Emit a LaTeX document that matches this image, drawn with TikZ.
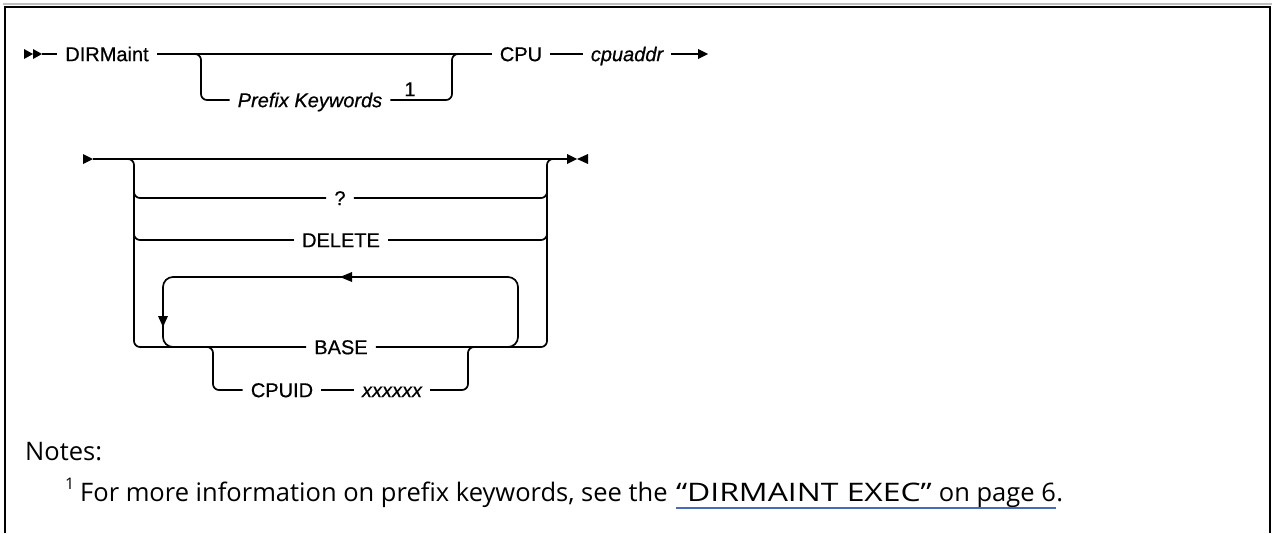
\documentclass[tikz,border=0pt]{standalone}
\usepackage{fontspec}
\setmainfont{Liberation Sans}
\newfontfamily\diagfont[FakeBold=0.6]{Liberation Sans}
\newfontfamily\notefont{Open Sans}
\newfontfamily\widenotefont[FakeStretch=1.25]{Open Sans}
\usetikzlibrary{calc}
\definecolor{linkblue}{RGB}{70,107,190}
\begin{document}
\begin{tikzpicture}[x=1pt,y=-1pt,
  conn/.style={line width=1.7pt, rounded corners=6pt},
  loopline/.style={line width=1.7pt, rounded corners=10pt},
  term/.style={font=\diagfont\fontsize{20}{24}\selectfont, inner xsep=8pt, inner ysep=0pt, text height=14.3pt, text depth=0pt},
  var/.style={term, font=\diagfont\fontsize{20}{24}\selectfont\itshape},
  notetext/.style={font=\notefont\fontsize{25.5}{30}\selectfont, inner sep=0pt, anchor=base west},
  frame/.style={line width=2pt}]
\useasboundingbox (0,0) rectangle (1273,533);

% frame
\draw[gray!50, line width=1.5pt] (3,4) -- (1272,4);
\draw[frame] (5,533) -- (5,7) -- (1270,7) -- (1270,533);

% ---------- row 1 ----------
\node[term] (dirm) at (107,54) {DIRMaint};
\node[var] (pfx) at (310,100) {Prefix Keywords};
\node[term, inner xsep=0pt] (fn1) at (410,89) {1};
\node[term] (cpu) at (521,54) {CPU};
\node[var] (cpuaddr) at (627,54) {cpuaddr};
\coordinate (s1) at (42,54);
\coordinate (j1) at (201,54);
\coordinate (j2) at (452,54);
\coordinate (e1) at (708,54);

\fill (24,49) -- (33,54) -- (24,59) -- cycle;
\fill (33,49) -- (42,54) -- (33,59) -- cycle;
\draw[conn] (s1) -- (dirm.west);
\draw[conn] (dirm.east) -- (cpu.west);
\draw[conn] ($(j1)+(-12,0)$) -- (j1) -- (j1 |- pfx) -- (pfx.west);
\draw[conn] (pfx.east) -- (j2 |- pfx) -- (j2) -- ($(j2)+(12,0)$);
\draw[conn] (cpu.east) -- (cpuaddr.west);
\draw[conn] (cpuaddr.east) -- ($(e1)+(-8,0)$);
\fill (698,49) -- (708,54) -- (698,59) -- cycle;

% ---------- row 2 ----------
\node[term] (q) at (340,198) {?};
\node[term] (del) at (341,240) {DELETE};
\node[term] (base) at (341,347) {BASE};
\node[term] (cpuid) at (282,390) {CPUID};
\node[var] (xx) at (392,390) {xxxxxx};
\coordinate (s2) at (93,159);
\coordinate (e2) at (567,159);
\coordinate (L) at (134,159);
\coordinate (R) at (547,159);
\coordinate (LL) at (163,277);
\coordinate (LR) at (518,277);
\coordinate (K1) at (213,347);
\coordinate (K2) at (468,347);

\fill (83,154) -- (93,159) -- (83,164) -- cycle;
\draw[conn] (s2) -- (e2);
\fill (567,154) -- (577,159) -- (567,164) -- cycle;
\fill (588,154) -- (577,159) -- (588,164) -- cycle;

% choices
\draw[conn] ($(L)+(-12,0)$) -- (L) -- (L |- base) -- (base.west);
\draw[conn] (base.east) -- (R |- base) -- (R) -- ($(R)+(12,0)$);
\draw[conn] ($(L |- q)+(0,-12)$) -- (L |- q) -- (q.west);
\draw[conn] (q.east) -- (R |- q) -- ($(R |- q)+(0,-12)$);
\draw[conn] ($(L |- del)+(0,-12)$) -- (L |- del) -- (del.west);
\draw[conn] (del.east) -- (R |- del) -- ($(R |- del)+(0,-12)$);

% repeat loop
\draw[loopline] ($(LR |- base)+(-20,0)$) -- (LR |- base) -- (LR) -- (LL) -- (LL |- base) -- ($(LL |- base)+(20,0)$);
\fill (340,277) -- (352,272) -- (352,282) -- cycle;
\fill (163,327) -- (158,316) -- (168,316) -- cycle;

% CPUID branch
\draw[conn] ($(K1)+(-12,0)$) -- (K1) -- (K1 |- cpuid) -- (cpuid.west);
\draw[conn] (cpuid.east) -- (xx.west);
\draw[conn] (xx.east) -- (K2 |- xx) -- (K2) -- ($(K2)+(12,0)$);

% ---------- notes ----------
\node[notetext] (notes) at (25,460) {Notes:};
\node[notetext, font=\notefont\fontsize{16}{20}\selectfont] (sup) at (65,489) {1};
\node[notetext] (fntext) at (80,501) {For more information on prefix keywords, see the};
\node[notetext, font=\widenotefont\fontsize{25.5}{30}\selectfont] (lnk) at ($(fntext.base east)+(8,0)$) {“DIRMAINT EXEC”};
\node[notetext] (lnk2) at (lnk.base east) {\ on page 6};
\node[notetext] (dot) at (lnk2.base east) {.};
\draw[linkblue, line width=1.2pt] ($(lnk.base west)+(0,7)$) -- ($(lnk2.base east)+(0,7)$);
\end{tikzpicture}
\end{document}
